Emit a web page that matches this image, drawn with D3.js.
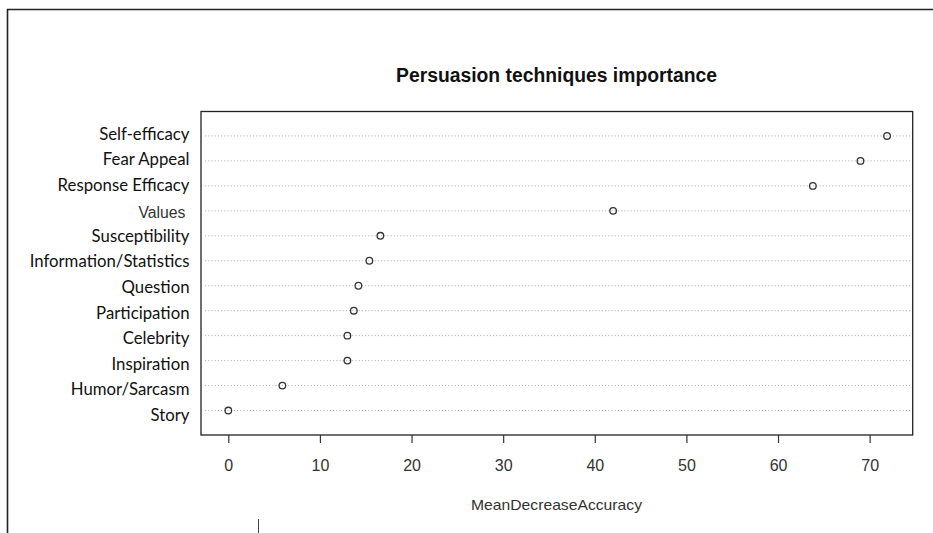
<!DOCTYPE html>
<html><head><meta charset="utf-8">
<script src="https://cdn.jsdelivr.net/npm/d3@7"></script>
<style>body{margin:0;background:#fff;overflow:hidden}</style>
</head><body>
<script>
// ---- data ----
const categories = ["Self-efficacy","Fear Appeal","Response Efficacy","Values","Susceptibility","Information/Statistics","Question","Participation","Celebrity","Inspiration","Humor/Sarcasm","Story"];
const importance = [71.9,69.0,63.8,42.0,16.6,15.4,14.2,13.7,13.0,13.0,5.9,0.0];
const xTicks = [0,10,20,30,40,50,60,70];
const chartTitle = "Persuasion techniques importance";
const xAxisTitle = "MeanDecreaseAccuracy";

const W = 933, H = 533;
const svg = d3.select("body").append("svg").attr("width", W).attr("height", H);
svg.append("rect").attr("width", W).attr("height", H).attr("fill", "#fff");

// outer frame (screenshot border)
svg.append("line").attr("x1", 7).attr("x2", W).attr("y1", 9.5).attr("y2", 9.5)
  .attr("stroke", "#222").attr("stroke-width", 1.6);
svg.append("line").attr("x1", 7.5).attr("x2", 7.5).attr("y1", 9).attr("y2", H)
  .attr("stroke", "#222").attr("stroke-width", 1.6);
svg.append("line").attr("x1", 258.5).attr("x2", 258.5).attr("y1", 519).attr("y2", H)
  .attr("stroke", "#444").attr("stroke-width", 1);

const box = {l: 201, r: 912.7, t: 111.5, b: 435};
const n = categories.length;
const x = d3.scaleLinear().domain([-2.98, 74.7]).range([box.l, box.r]);
const y = d3.scaleLinear().domain([0, n + 1]).range([435.5, 111]);
const yLab = d3.scaleLinear().domain([n, 1]).range([139.5, 421]);

const rows = categories.map((c, i) => ({name: c, value: importance[i], pos: n - i}));
const sans = "'Liberation Sans', Arial, sans-serif";

// gridlines
svg.append("g").selectAll("line").data(rows).join("line")
  .attr("x1", box.l + 4).attr("x2", box.r - 2)
  .attr("y1", d => y(d.pos)).attr("y2", d => y(d.pos))
  .attr("stroke", "#b4b4b4").attr("stroke-width", 1).attr("stroke-dasharray", "1.2,2");

// box
svg.append("rect").attr("x", box.l).attr("y", box.t)
  .attr("width", box.r - box.l).attr("height", box.b - box.t)
  .attr("fill", "none").attr("stroke", "#222").attr("stroke-width", 1.3);

// points
svg.append("g").selectAll("circle").data(rows).join("circle")
  .attr("cx", d => x(d.value)).attr("cy", d => y(d.pos)).attr("r", 3.3)
  .attr("fill", "none").attr("stroke", "#333").attr("stroke-width", 1.3);

// x axis
const ax = svg.append("g").attr("transform", `translate(0,${box.b})`)
  .call(d3.axisBottom(x).tickValues(xTicks).tickSize(8).tickPadding(16).tickFormat(d3.format("d")));
ax.select(".domain").remove();
ax.selectAll(".tick line").attr("stroke", "#333").attr("stroke-width", 1.2);
ax.selectAll(".tick text").attr("fill", "#333").attr("dy", "0.72em")
  .style("font-family", sans).style("font-size", "16px");

// y labels (Calibri-like: Lato compressed horizontally)
const labFont = "Lato, 'Noto Sans', sans-serif";
const labG = svg.append("g");
const labRows = rows.filter(d => d.name !== "Values");
const labItems = labG.selectAll("g").data(labRows).join("g");
const labs = labItems.append("text")
  .attr("x", 0).attr("y", 0).attr("text-anchor", "end").attr("fill", "#111")
  .style("font-family", labFont).style("font-size", "17px")
  .text(d => d.name);
const refNode = labs.filter(d => d.name === "Response Efficacy").node();
const k = 132 / refNode.getComputedTextLength();
labItems.attr("transform", d => `translate(189.5,${yLab(d.pos)}) scale(${k},1)`);

// "Values" label (pasted in a different font in the original)
const vRow = rows.filter(d => d.name === "Values");
labG.selectAll("text.v").data(vRow).join("text").attr("class", "v")
  .attr("x", 185.5).attr("y", d => yLab(d.pos) + 1.5)
  .attr("text-anchor", "end").attr("fill", "#333")
  .style("font-family", sans).style("font-size", "16px")
  .attr("textLength", 47).attr("lengthAdjust", "spacingAndGlyphs")
  .text(d => d.name);

// title
svg.append("text").attr("x", 556.5).attr("y", 82).attr("text-anchor", "middle")
  .attr("fill", "#111").style("font-family", sans)
  .style("font-weight", "bold").style("font-size", "19.5px")
  .attr("textLength", 321).attr("lengthAdjust", "spacingAndGlyphs")
  .text(chartTitle);

// x axis title
svg.append("text").attr("x", 556.5).attr("y", 509.5).attr("text-anchor", "middle")
  .attr("fill", "#333").style("font-family", sans)
  .style("font-size", "14.5px")
  .attr("textLength", 171).attr("lengthAdjust", "spacingAndGlyphs")
  .text(xAxisTitle);
</script>
</body></html>
